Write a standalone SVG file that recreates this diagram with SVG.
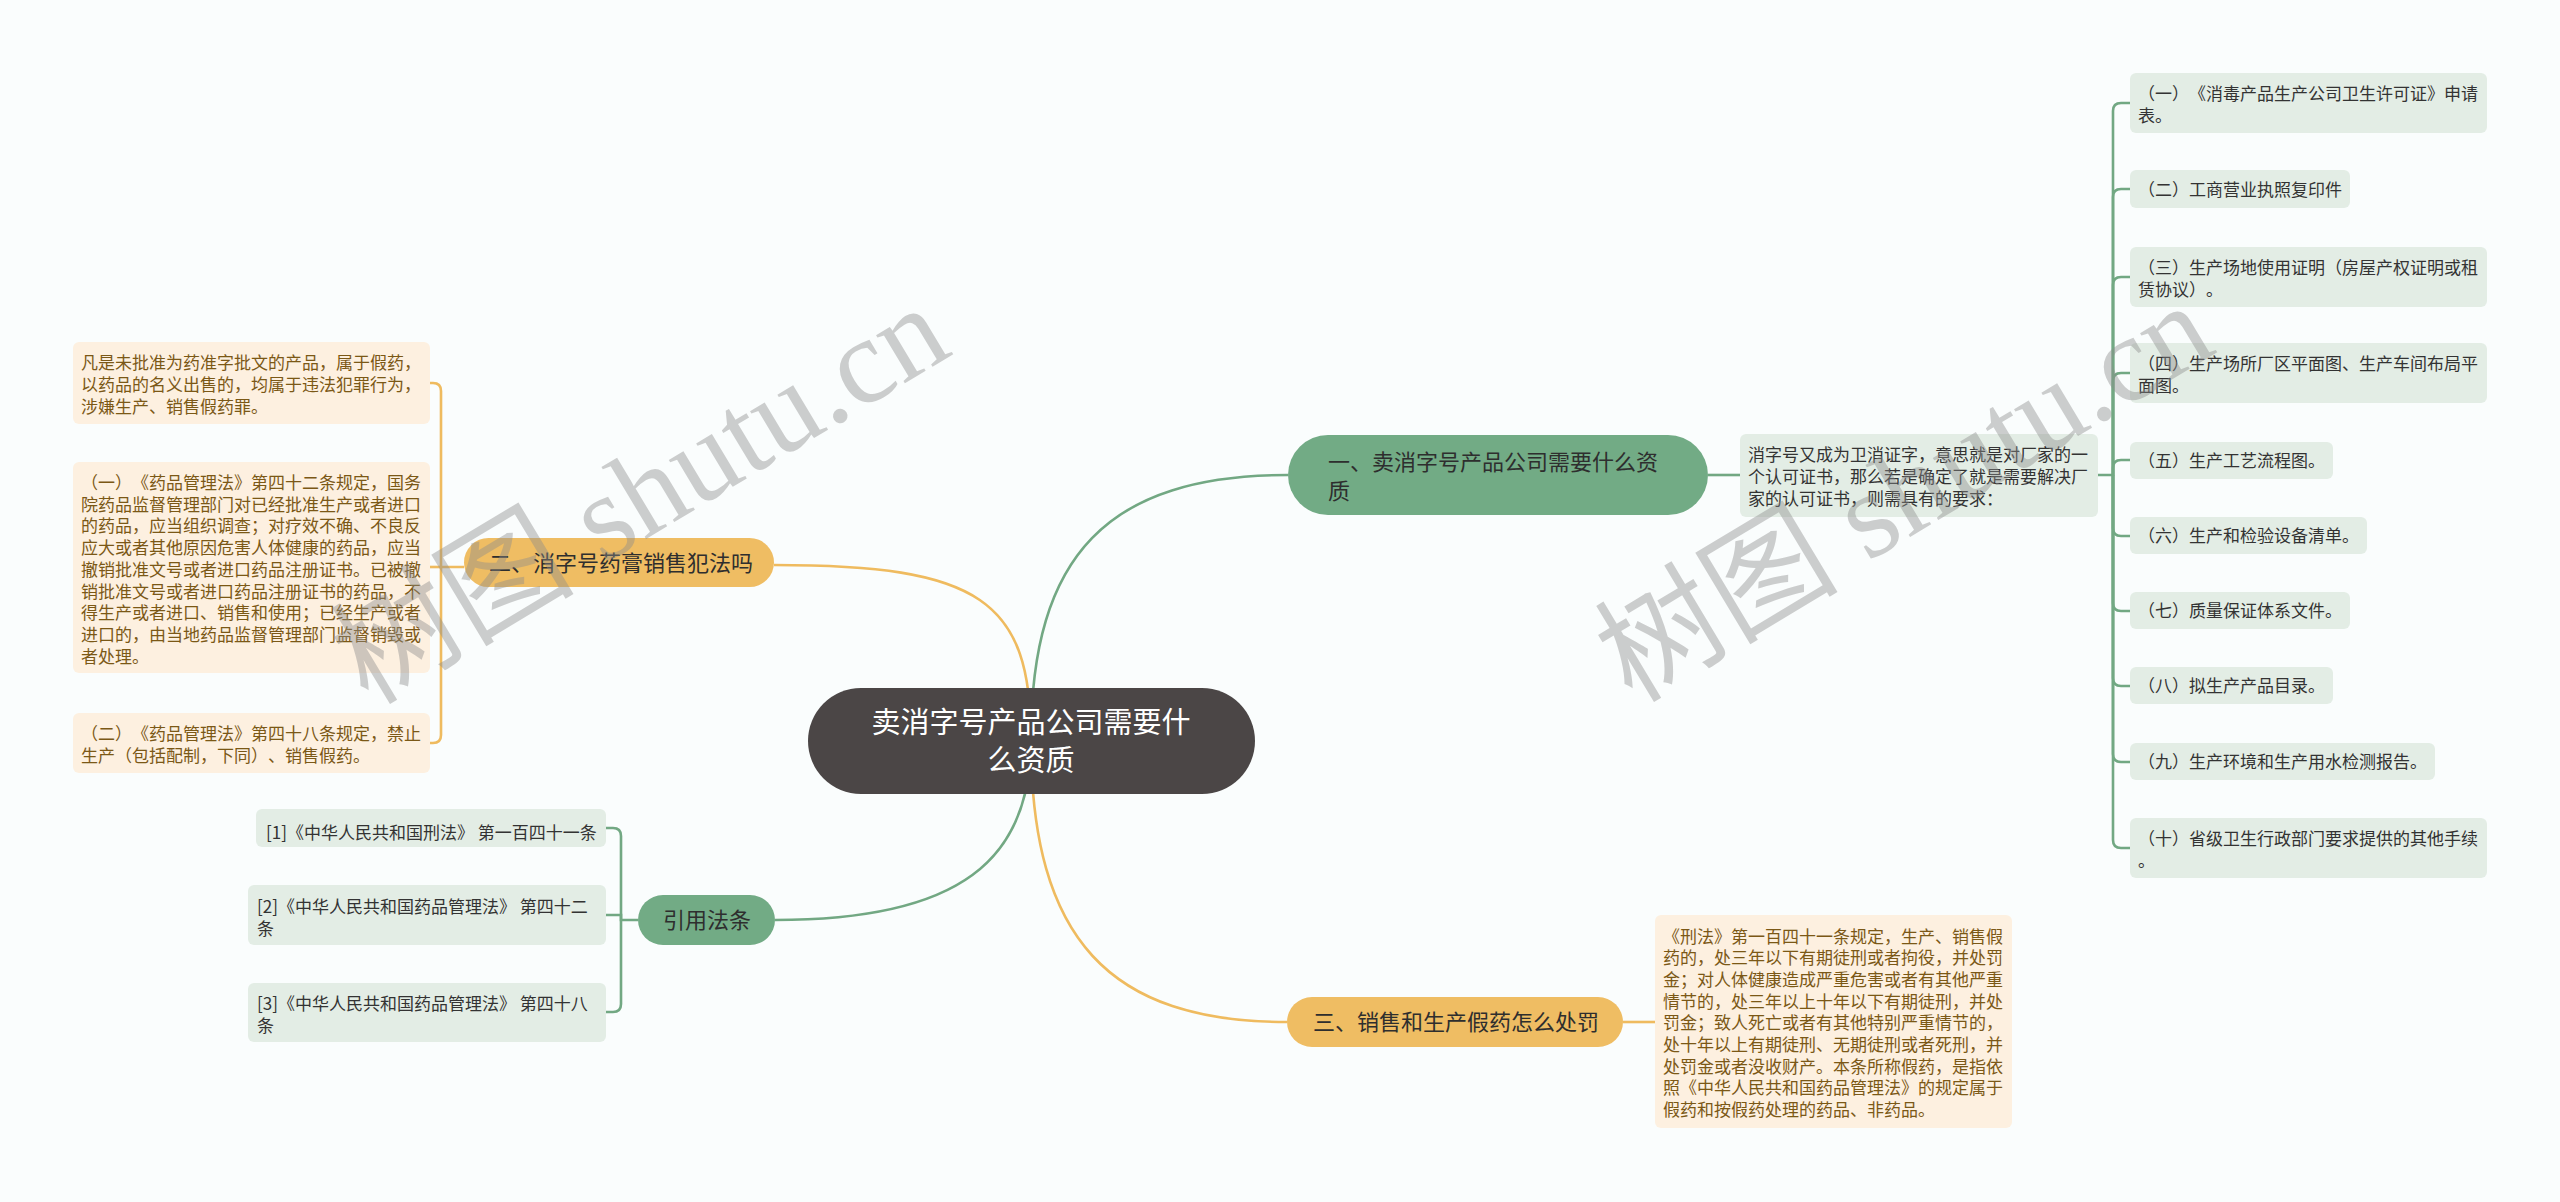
<svg xmlns="http://www.w3.org/2000/svg" width="2560" height="1202" viewBox="0 0 2560 1202">
<style>
text{font-family:"Noto Sans CJK SC","Noto Sans",sans-serif;text-spacing-trim:space-all;}
.s{font-size:17px;}
.b{font-size:22px;fill:#2e2e2e;}
.g rect{fill:#e3ede5;}
.g text{fill:#333333;}
.o rect{fill:#fdf0e0;}
.o text{fill:#7b5816;}
.cg{fill:none;stroke:#72a883;stroke-width:2.6;}
.co{fill:none;stroke:#efbb5f;stroke-width:2.6;}
.wm{font-family:"Liberation Serif","Noto Sans CJK SC",serif;font-size:122px;fill:#8c8c8c;opacity:0.42;}
</style>
<rect x="0" y="0" width="2560" height="1202" fill="#fafdfd"/>
<g id="connectors">
<path class="cg" d="M1031,740 C1031,555 1108,475 1288,475"/>
<path class="co" d="M1031,740 C1031,600 980,565 774,565"/>
<path class="cg" d="M1031,740 C1031,860 960,920 775,920"/>
<path class="co" d="M1031,740 C1031,940 1110,1022 1287,1022"/>
<path class="cg" d="M1708,475 H1740"/>
<path class="co" d="M1623,1022 H1655"/>
<path class="cg" d="M2098,475 H2113 V111 Q2113,103 2121,103 H2130"/>
<path class="cg" d="M2113,475 V197 Q2113,189 2121,189 H2130"/>
<path class="cg" d="M2113,475 V285 Q2113,277 2121,277 H2130"/>
<path class="cg" d="M2113,475 V381 Q2113,373 2121,373 H2130"/>
<path class="cg" d="M2113,475 V468 Q2113,460 2121,460 H2130"/>
<path class="cg" d="M2113,475 V528 Q2113,536 2121,536 H2130"/>
<path class="cg" d="M2113,475 V603 Q2113,611 2121,611 H2130"/>
<path class="cg" d="M2113,475 V678 Q2113,686 2121,686 H2130"/>
<path class="cg" d="M2113,475 V754 Q2113,762 2121,762 H2130"/>
<path class="cg" d="M2113,475 V840 Q2113,848 2121,848 H2130"/>
<path class="co" d="M464,567 H441 V391 Q441,383 433,383 H430"/>
<path class="co" d="M441,567 V567 H430"/>
<path class="co" d="M441,567 V735 Q441,743 433,743 H430"/>
<path class="cg" d="M638,920 H621 V836 Q621,828 613,828 H606"/>
<path class="cg" d="M621,920 V915 H606"/>
<path class="cg" d="M621,920 V1004 Q621,1012 613,1012 H606"/>
</g>
<g id="center">
<rect x="808" y="688" width="447" height="106" rx="53" fill="#4b4646"/>
<text x="1031" y="733" text-anchor="middle" font-size="29" fill="#ffffff">卖消字号产品公司需要什</text>
<text x="1031" y="771" text-anchor="middle" font-size="29" fill="#ffffff">么资质</text>
</g>
<g id="branch1">
<rect x="1288" y="435" width="420" height="80" rx="40" fill="#72ab85"/>
<text class="b" x="1328" y="470">一、卖消字号产品公司需要什么资</text>
<text class="b" x="1328" y="499">质</text>
</g>
<g id="branch1-desc" class="g">
<rect x="1740" y="434" width="358" height="83" rx="6"/>
<text class="s" x="1748" y="461">消字号又成为卫消证字，意思就是对厂家的一</text>
<text class="s" x="1748" y="483">个认可证书，那么若是确定了就是需要解决厂</text>
<text class="s" x="1748" y="505">家的认可证书，则需具有的要求：</text>
</g>
<g id="r1" class="g"><rect x="2130" y="73" width="357" height="60" rx="6"/><text class="s" x="2138" y="100">（一）《消毒产品生产公司卫生许可证》申请</text><text class="s" x="2138" y="122">表。</text></g>
<g id="r2" class="g"><rect x="2130" y="170" width="220" height="38" rx="6"/><text class="s" x="2138" y="196">（二）工商营业执照复印件</text></g>
<g id="r3" class="g"><rect x="2130" y="247" width="357" height="60" rx="6"/><text class="s" x="2138" y="274">（三）生产场地使用证明（房屋产权证明或租</text><text class="s" x="2138" y="296">赁协议）。</text></g>
<g id="r4" class="g"><rect x="2130" y="343" width="357" height="60" rx="6"/><text class="s" x="2138" y="370">（四）生产场所厂区平面图、生产车间布局平</text><text class="s" x="2138" y="392">面图。</text></g>
<g id="r5" class="g"><rect x="2130" y="442" width="203" height="37" rx="6"/><text class="s" x="2138" y="467">（五）生产工艺流程图。</text></g>
<g id="r6" class="g"><rect x="2130" y="517" width="237" height="37" rx="6"/><text class="s" x="2138" y="542">（六）生产和检验设备清单。</text></g>
<g id="r7" class="g"><rect x="2130" y="592" width="220" height="37" rx="6"/><text class="s" x="2138" y="617">（七）质量保证体系文件。</text></g>
<g id="r8" class="g"><rect x="2130" y="667" width="203" height="37" rx="6"/><text class="s" x="2138" y="692">（八）拟生产产品目录。</text></g>
<g id="r9" class="g"><rect x="2130" y="743" width="305" height="37" rx="6"/><text class="s" x="2138" y="768">（九）生产环境和生产用水检测报告。</text></g>
<g id="r10" class="g"><rect x="2130" y="818" width="357" height="60" rx="6"/><text class="s" x="2138" y="845">（十）省级卫生行政部门要求提供的其他手续</text><text class="s" x="2138" y="867">。</text></g>
<g id="branch2">
<rect x="464" y="538" width="310" height="49" rx="24.5" fill="#efbd63"/>
<text class="b" x="489" y="571">二、消字号药膏销售犯法吗</text>
</g>
<g id="l1" class="o">
<rect x="73" y="342" width="357" height="82" rx="6"/>
<text class="s" x="81" y="369">凡是未批准为药准字批文的产品，属于假药，</text>
<text class="s" x="81" y="391">以药品的名义出售的，均属于违法犯罪行为，</text>
<text class="s" x="81" y="413">涉嫌生产、销售假药罪。</text>
</g>
<g id="l2" class="o">
<rect x="73" y="462" width="357" height="211" rx="6"/>
<text class="s" x="81" y="489">（一）《药品管理法》第四十二条规定，国务</text>
<text class="s" x="81" y="510.7">院药品监督管理部门对已经批准生产或者进口</text>
<text class="s" x="81" y="532.4">的药品，应当组织调查；对疗效不确、不良反</text>
<text class="s" x="81" y="554.1">应大或者其他原因危害人体健康的药品，应当</text>
<text class="s" x="81" y="575.8">撤销批准文号或者进口药品注册证书。已被撤</text>
<text class="s" x="81" y="597.5">销批准文号或者进口药品注册证书的药品，不</text>
<text class="s" x="81" y="619.2">得生产或者进口、销售和使用；已经生产或者</text>
<text class="s" x="81" y="640.9">进口的，由当地药品监督管理部门监督销毁或</text>
<text class="s" x="81" y="662.6">者处理。</text>
</g>
<g id="l3" class="o">
<rect x="73" y="713" width="357" height="60" rx="6"/>
<text class="s" x="81" y="740">（二）《药品管理法》第四十八条规定，禁止</text>
<text class="s" x="81" y="762">生产（包括配制，下同）、销售假药。</text>
</g>
<g id="branch4">
<rect x="638" y="895" width="137" height="50" rx="25" fill="#72ab85"/>
<text class="b" x="663" y="928">引用法条</text>
</g>
<g id="ref1" class="g"><rect x="256" y="809" width="350" height="38" rx="6"/><text class="s" x="266" y="839">[1]《中华人民共和国刑法》 第一百四十一条</text></g>
<g id="ref2" class="g"><rect x="248" y="885" width="358" height="60" rx="6"/><text class="s" x="257" y="913">[2]《中华人民共和国药品管理法》 第四十二</text><text class="s" x="257" y="935">条</text></g>
<g id="ref3" class="g"><rect x="248" y="983" width="358" height="59" rx="6"/><text class="s" x="257" y="1010">[3]《中华人民共和国药品管理法》 第四十八</text><text class="s" x="257" y="1032">条</text></g>
<g id="branch3">
<rect x="1287" y="997" width="336" height="50" rx="25" fill="#efbd63"/>
<text class="b" x="1313" y="1030">三、销售和生产假药怎么处罚</text>
</g>
<g id="branch3-desc" class="o">
<rect x="1655" y="915" width="357" height="213" rx="6"/>
<text class="s" x="1663" y="942.5">《刑法》第一百四十一条规定，生产、销售假</text>
<text class="s" x="1663" y="964.2">药的，处三年以下有期徒刑或者拘役，并处罚</text>
<text class="s" x="1663" y="985.9">金；对人体健康造成严重危害或者有其他严重</text>
<text class="s" x="1663" y="1007.6">情节的，处三年以上十年以下有期徒刑，并处</text>
<text class="s" x="1663" y="1029.3">罚金；致人死亡或者有其他特别严重情节的，</text>
<text class="s" x="1663" y="1051">处十年以上有期徒刑、无期徒刑或者死刑，并</text>
<text class="s" x="1663" y="1072.7">处罚金或者没收财产。本条所称假药，是指依</text>
<text class="s" x="1663" y="1094.4">照《中华人民共和国药品管理法》的规定属于</text>
<text class="s" x="1663" y="1116.1">假药和按假药处理的药品、非药品。</text>
</g>
<g id="watermarks">
<text class="wm" x="368" y="706" transform="rotate(-31 368 706)">树图 shutu.cn</text>
<text class="wm" x="1632" y="704" transform="rotate(-31 1632 704)">树图 shutu.cn</text>
</g>
</svg>
